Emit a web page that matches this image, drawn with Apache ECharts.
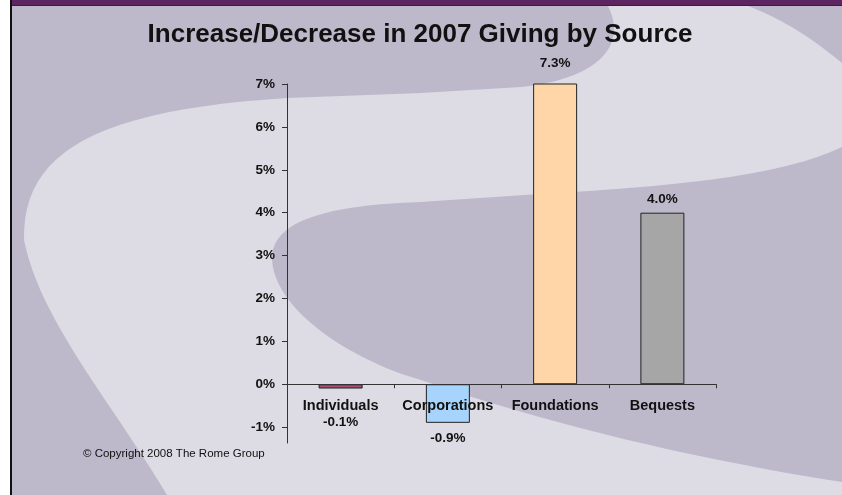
<!DOCTYPE html>
<html>
<head>
<meta charset="utf-8">
<script src="https://cdn.jsdelivr.net/npm/echarts@6/dist/echarts.min.js"></script>
<style>
html,body{margin:0;padding:0;background:#ffffff;}
#chart{width:842px;height:495px;}
</style>
</head>
<body>
<div id="chart"></div>
<script>
var categories = ['Individuals', 'Corporations', 'Foundations', 'Bequests'];
var changePct = [-0.1, -0.9, 7.3, 4.0];
var yTickValues = [-1, 0, 1, 2, 3, 4, 5, 6, 7];
var barColors = ['#a84c7c', '#a6d4fc', '#ffd6a8', '#a6a6a6'];
var labelDistances = [27, 8, 13, 6];
var titleText = 'Increase/Decrease in 2007 Giving by Source';
var copyrightText = '\u00A9 Copyright 2008 The Rome Group';

// background decoration: outline segments (L = line to, C = cubic bezier)
function tracePath(start, segs) {
  var pts = [start.slice()];
  var cur = start.slice();
  segs.forEach(function (s) {
    if (s[0] === 'L') {
      cur = [s[1], s[2]];
      pts.push(cur.slice());
    } else {
      var p0 = cur, p1 = [s[1], s[2]], p2 = [s[3], s[4]], p3 = [s[5], s[6]];
      for (var k = 1; k <= 24; k++) {
        var t = k / 24, u = 1 - t;
        pts.push([
          u*u*u*p0[0] + 3*u*u*t*p1[0] + 3*u*t*t*p2[0] + t*t*t*p3[0],
          u*u*u*p0[1] + 3*u*u*t*p1[1] + 3*u*t*t*p2[1] + t*t*t*p3[1]
        ]);
      }
      cur = p3;
    }
  });
  return pts;
}
var lightBand = tracePath([608, 6], [
  ['L', 748, 6], ['C', 790, 22, 820, 45, 842, 63], ['L', 842, 495], ['L', 167, 495],
  ['C', 110, 400, 40, 320, 24, 240], ['C', 22, 150, 100, 110, 287, 98],
  ['L', 421, 93], ['L', 521, 87], ['C', 590, 80, 630, 50, 608, 6]
]);
var innerDark = tracePath([842, 147], [
  ['C', 790, 172, 700, 185, 554, 193], ['L', 421, 202], ['C', 330, 205, 270, 220, 272, 260],
  ['C', 275, 310, 350, 360, 421, 380], ['C', 550, 425, 700, 460, 842, 482]
]);

var chart = echarts.init(document.getElementById('chart'), null, {renderer: 'canvas'});

var seriesData = changePct.map(function (v, i) {
  return {
    value: v,
    itemStyle: {color: barColors[i]},
    label: {distance: labelDistances[i]}
  };
});

var option = {
  animation: false,
  backgroundColor: '#ffffff',
  graphic: [
    {type: 'rect', z: -10, silent: true, shape: {x: 12, y: 0, width: 830, height: 495}, style: {fill: '#bdb9cb'}},
    {type: 'polygon', z: -9, silent: true, shape: {points: lightBand}, style: {fill: '#dddbe3'}},
    {type: 'polygon', z: -8, silent: true, shape: {points: innerDark}, style: {fill: '#bdb9cb'}},
    {type: 'rect', z: -7, silent: true, shape: {x: 12, y: 0, width: 830, height: 5}, style: {fill: '#5c2562'}},
    {type: 'rect', z: -7, silent: true, shape: {x: 12, y: 5, width: 830, height: 1}, style: {fill: '#3e1a42'}},
    {type: 'rect', z: -7, silent: true, shape: {x: 10, y: 0, width: 2, height: 495}, style: {fill: '#111111'}},
    {type: 'text', z: 5, silent: true, left: 83, top: 448,
      style: {text: copyrightText, font: '11.5px "Liberation Sans", Arial, sans-serif', fill: '#111111'}}
  ],
  title: {
    text: titleText,
    left: 415,
    top: 17,
    textAlign: 'center',
    textStyle: {fontFamily: '"Liberation Sans", Arial, sans-serif', fontSize: 26, fontWeight: 'bold', color: '#111111'}
  },
  grid: {left: 287, right: 126, top: 84, bottom: 52, containLabel: false},
  xAxis: {
    type: 'category',
    data: categories,
    z: 4,
    axisLine: {onZero: true, lineStyle: {color: '#333333', width: 1}},
    axisTick: {show: true, alignWithLabel: false, length: 4, inside: false, lineStyle: {color: '#333333'}},
    axisLabel: {margin: -45, color: '#111111', fontFamily: '"Liberation Sans", Arial, sans-serif', fontSize: 14.5, fontWeight: 'bold', interval: 0},
    splitLine: {show: false}
  },
  yAxis: {
    type: 'value',
    min: -1.37,
    max: 7,
    axisLine: {show: true, lineStyle: {color: '#333333', width: 1}},
    axisTick: {show: true, length: 5, customValues: yTickValues, lineStyle: {color: '#333333'}},
    axisLabel: {
      customValues: yTickValues,
      margin: 12,
      color: '#111111',
      fontFamily: '"Liberation Sans", Arial, sans-serif',
      fontSize: 13.5,
      fontWeight: 'bold',
      formatter: function (v) { return Math.round(v) + '%'; }
    },
    splitLine: {show: false}
  },
  series: [{
    type: 'bar',
    data: seriesData,
    barWidth: '41%',
    clip: true,
    itemStyle: {borderColor: '#222222', borderWidth: 1},
    label: {
      show: true,
      position: 'outside',
      color: '#111111',
      fontFamily: '"Liberation Sans", Arial, sans-serif',
      fontSize: 13.5,
      fontWeight: 'bold',
      formatter: function (p) { return p.value.toFixed(1) + '%'; }
    }
  }]
};
chart.setOption(option);
</script>
</body>
</html>
